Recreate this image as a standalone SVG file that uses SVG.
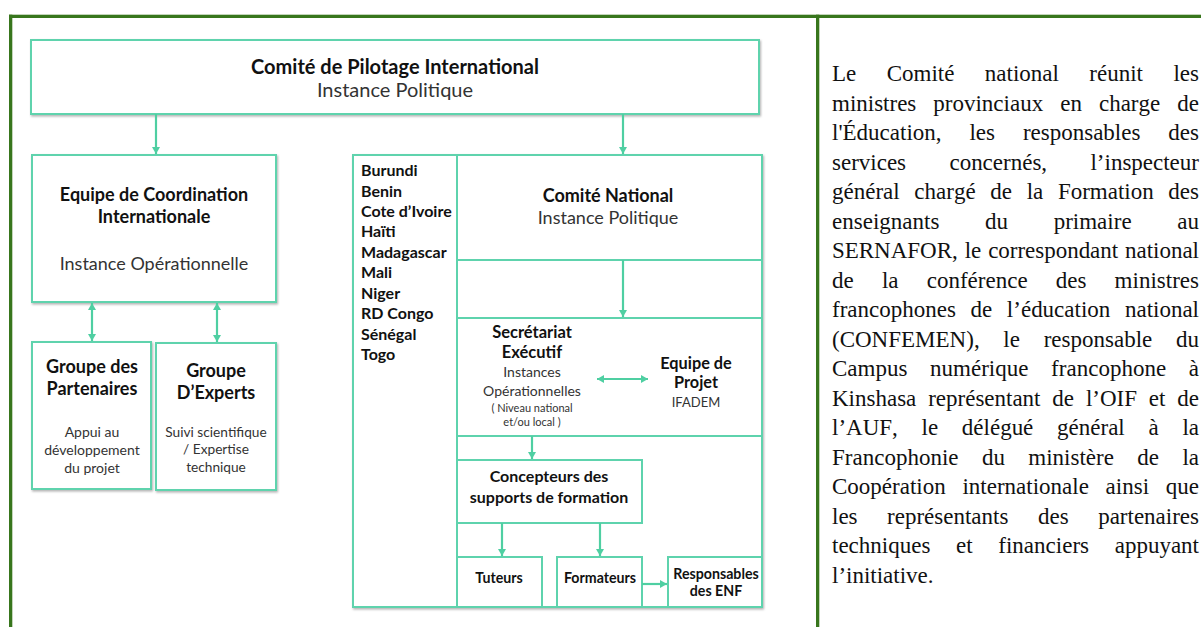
<svg xmlns="http://www.w3.org/2000/svg" width="1201" height="627" viewBox="0 0 1201 627">
<defs>
<style>
.box{fill:#fff;stroke:#5ed3ad;stroke-width:2}
.ln{stroke:#5ed3ad;stroke-width:2;fill:none}
.cn{stroke:#4fcfa2;stroke-width:2.2;fill:none}
.b{font-family:Lato,"Liberation Sans",sans-serif;font-weight:bold;fill:#111;text-anchor:middle}
.r{font-family:Lato,"Liberation Sans",sans-serif;fill:#333;text-anchor:middle}
.c{font-family:Lato,"Liberation Sans",sans-serif;font-weight:bold;fill:#111;font-size:16px}
.p{font-family:"Liberation Serif","Times New Roman",serif;font-size:23px;fill:#111;font-kerning:none}
</style>
<marker id="ah" markerUnits="userSpaceOnUse" markerWidth="10" markerHeight="10" refX="7" refY="4.5" orient="auto-start-reverse" viewBox="0 0 10 10">
<path d="M0,0.5 L7,4.5 L0,8.5 Z" fill="#4fcfa2"/>
</marker>
<filter id="sh" x="-5%" y="-5%" width="110%" height="115%">
<feDropShadow dx="1" dy="1.5" stdDeviation="0.8" flood-color="#000" flood-opacity="0.3"/>
</filter>
</defs>

<g id="frame" fill="#38761d">
<rect x="9" y="14.7" width="1192" height="3.3"/>
<rect x="9" y="14.7" width="3.3" height="612.3"/>
<rect x="816" y="14.7" width="3.3" height="612.3"/>
</g>

<g id="cpi">
<rect class="box" x="31" y="40" width="728" height="74" filter="url(#sh)"/>
<text class="b" x="395" y="74" font-size="20">Comité de Pilotage International</text>
<text class="r" x="395" y="97" font-size="20">Instance Politique</text>
</g>

<g id="eci">
<rect class="box" x="32" y="155" width="244" height="147" filter="url(#sh)"/>
<text class="b" x="154" y="201" font-size="18">Equipe de Coordination</text>
<text class="b" x="154" y="223" font-size="18">Internationale</text>
<text class="r" x="154" y="270" font-size="18">Instance Opérationnelle</text>
</g>

<g id="gp">
<rect class="box" x="32" y="342" width="119" height="147" filter="url(#sh)"/>
<text class="b" x="92" y="373" font-size="18">Groupe des</text>
<text class="b" x="92" y="395" font-size="18">Partenaires</text>
<text class="r" x="92" y="437" font-size="14">Appui au</text>
<text class="r" x="92" y="455" font-size="14">développement</text>
<text class="r" x="92" y="473" font-size="14">du projet</text>
</g>

<g id="ge">
<rect class="box" x="156" y="343" width="120" height="147" filter="url(#sh)"/>
<text class="b" x="216" y="377" font-size="18">Groupe</text>
<text class="b" x="216" y="399" font-size="18">D’Experts</text>
<text class="r" x="216" y="437" font-size="13.7">Suivi scientifique</text>
<text class="r" x="216" y="454" font-size="13.7">/ Expertise</text>
<text class="r" x="216" y="472" font-size="13.7">technique</text>
</g>

<g id="national">
<rect class="box" x="353" y="155" width="409" height="452" filter="url(#sh)"/>
<path class="ln" d="M457,155 V607 M457,260 H762 M457,318 H762 M457,436 H762"/>
</g>

<g id="pays">
<text class="c" x="361" y="176">Burundi</text>
<text class="c" x="361" y="196.5">Benin</text>
<text class="c" x="361" y="217">Cote d’Ivoire</text>
<text class="c" x="361" y="237.3">Haïti</text>
<text class="c" x="361" y="257.8">Madagascar</text>
<text class="c" x="361" y="278.2">Mali</text>
<text class="c" x="361" y="298.7">Niger</text>
<text class="c" x="361" y="319.1">RD Congo</text>
<text class="c" x="361" y="339.6">Sénégal</text>
<text class="c" x="361" y="360">Togo</text>
</g>

<g id="cn">
<text class="b" x="608" y="202" font-size="18">Comité National</text>
<text class="r" x="608" y="224" font-size="18">Instance Politique</text>
</g>

<g id="se">
<text class="b" x="532" y="338" font-size="16.5">Secrétariat</text>
<text class="b" x="532" y="358" font-size="16.5">Exécutif</text>
<text class="r" x="532" y="377" font-size="14">Instances</text>
<text class="r" x="532" y="396" font-size="14">Opérationnelles</text>
<text class="r" x="532" y="412" font-size="11" fill="#222">( Niveau national</text>
<text class="r" x="532" y="426" font-size="11" fill="#222">et/ou local )</text>
</g>

<g id="ep">
<text class="b" x="696" y="369" font-size="16.3">Equipe de</text>
<text class="b" x="696" y="388" font-size="16.3">Projet</text>
<text class="r" x="696" y="407" font-size="13">IFADEM</text>
</g>

<g id="concepteurs">
<rect class="box" x="457" y="460" width="185" height="63"/>
<text class="b" x="549" y="482" font-size="16">Concepteurs des</text>
<text class="b" x="549" y="503" font-size="16">supports de formation</text>
</g>

<g id="tuteurs">
<rect class="box" x="457" y="557" width="85" height="50"/>
<text class="b" x="499" y="583" font-size="14.2">Tuteurs</text>
</g>

<g id="formateurs">
<rect class="box" x="557" y="557" width="85" height="50"/>
<text class="b" x="600" y="583" font-size="14.2">Formateurs</text>
</g>

<g id="responsables">
<rect class="box" x="668" y="557" width="94" height="50"/>
<text class="b" x="716" y="579" font-size="14.2">Responsables</text>
<text class="b" x="716" y="596" font-size="14.2">des ENF</text>
</g>

<g id="connectors" class="cn">
<line x1="156" y1="114" x2="156" y2="154" marker-end="url(#ah)"/>
<line x1="623" y1="114" x2="623" y2="154" marker-end="url(#ah)"/>
<line x1="92" y1="303" x2="92" y2="341" marker-start="url(#ah)" marker-end="url(#ah)"/>
<line x1="217" y1="303" x2="217" y2="342" marker-start="url(#ah)" marker-end="url(#ah)"/>
<line x1="623" y1="260" x2="623" y2="317" marker-end="url(#ah)"/>
<line x1="597" y1="379" x2="648" y2="379" marker-start="url(#ah)" marker-end="url(#ah)"/>
<line x1="532" y1="436" x2="532" y2="459" marker-end="url(#ah)"/>
<line x1="502" y1="523" x2="502" y2="556" marker-end="url(#ah)"/>
<line x1="600" y1="523" x2="600" y2="556" marker-end="url(#ah)"/>
<line x1="642" y1="584" x2="667" y2="584" marker-end="url(#ah)"/>
</g>

<g id="paragraphe">
<text class="p" x="832" y="81" word-spacing="24.7" textLength="367" lengthAdjust="spacing">Le Comité national réunit les</text>
<text class="p" x="832" y="110.5" word-spacing="11.3" textLength="367" lengthAdjust="spacing">ministres provinciaux en charge de</text>
<text class="p" x="832" y="140" word-spacing="22.2" textLength="367" lengthAdjust="spacing">l'Éducation, les responsables des</text>
<text class="p" x="832" y="169.5" word-spacing="37.6" textLength="367" lengthAdjust="spacing">services concernés, l’inspecteur</text>
<text class="p" x="832" y="199" word-spacing="8.9" textLength="367" lengthAdjust="spacing">général chargé de la Formation des</text>
<text class="p" x="832" y="228.5" word-spacing="39.9" textLength="367" lengthAdjust="spacing">enseignants du primaire au</text>
<text class="p" x="832" y="258" word-spacing="1.2" textLength="367" lengthAdjust="spacing">SERNAFOR, le correspondant national</text>
<text class="p" x="832" y="287.5" word-spacing="22.4" textLength="367" lengthAdjust="spacing">de la conférence des ministres</text>
<text class="p" x="832" y="317" word-spacing="8.9" textLength="367" lengthAdjust="spacing">francophones de l’éducation national</text>
<text class="p" x="832" y="346.5" word-spacing="18" textLength="367" lengthAdjust="spacing">(CONFEMEN), le responsable du</text>
<text class="p" x="832" y="376" word-spacing="16.9" textLength="367" lengthAdjust="spacing">Campus numérique francophone à</text>
<text class="p" x="832" y="405.5" word-spacing="6.1" textLength="367" lengthAdjust="spacing">Kinshasa représentant de l’OIF et de</text>
<text class="p" x="832" y="435" word-spacing="18" textLength="367" lengthAdjust="spacing">l’AUF, le délégué général à la</text>
<text class="p" x="832" y="464.5" word-spacing="17.6" textLength="367" lengthAdjust="spacing">Francophonie du ministère de la</text>
<text class="p" x="832" y="494" word-spacing="11" textLength="367" lengthAdjust="spacing">Coopération internationale ainsi que</text>
<text class="p" x="832" y="523.5" word-spacing="23.8" textLength="367" lengthAdjust="spacing">les représentants des partenaires</text>
<text class="p" x="832" y="553" word-spacing="19.9" textLength="367" lengthAdjust="spacing">techniques et financiers appuyant</text>
<text class="p" x="832" y="582.5">l’initiative.</text>
</g>
</svg>
